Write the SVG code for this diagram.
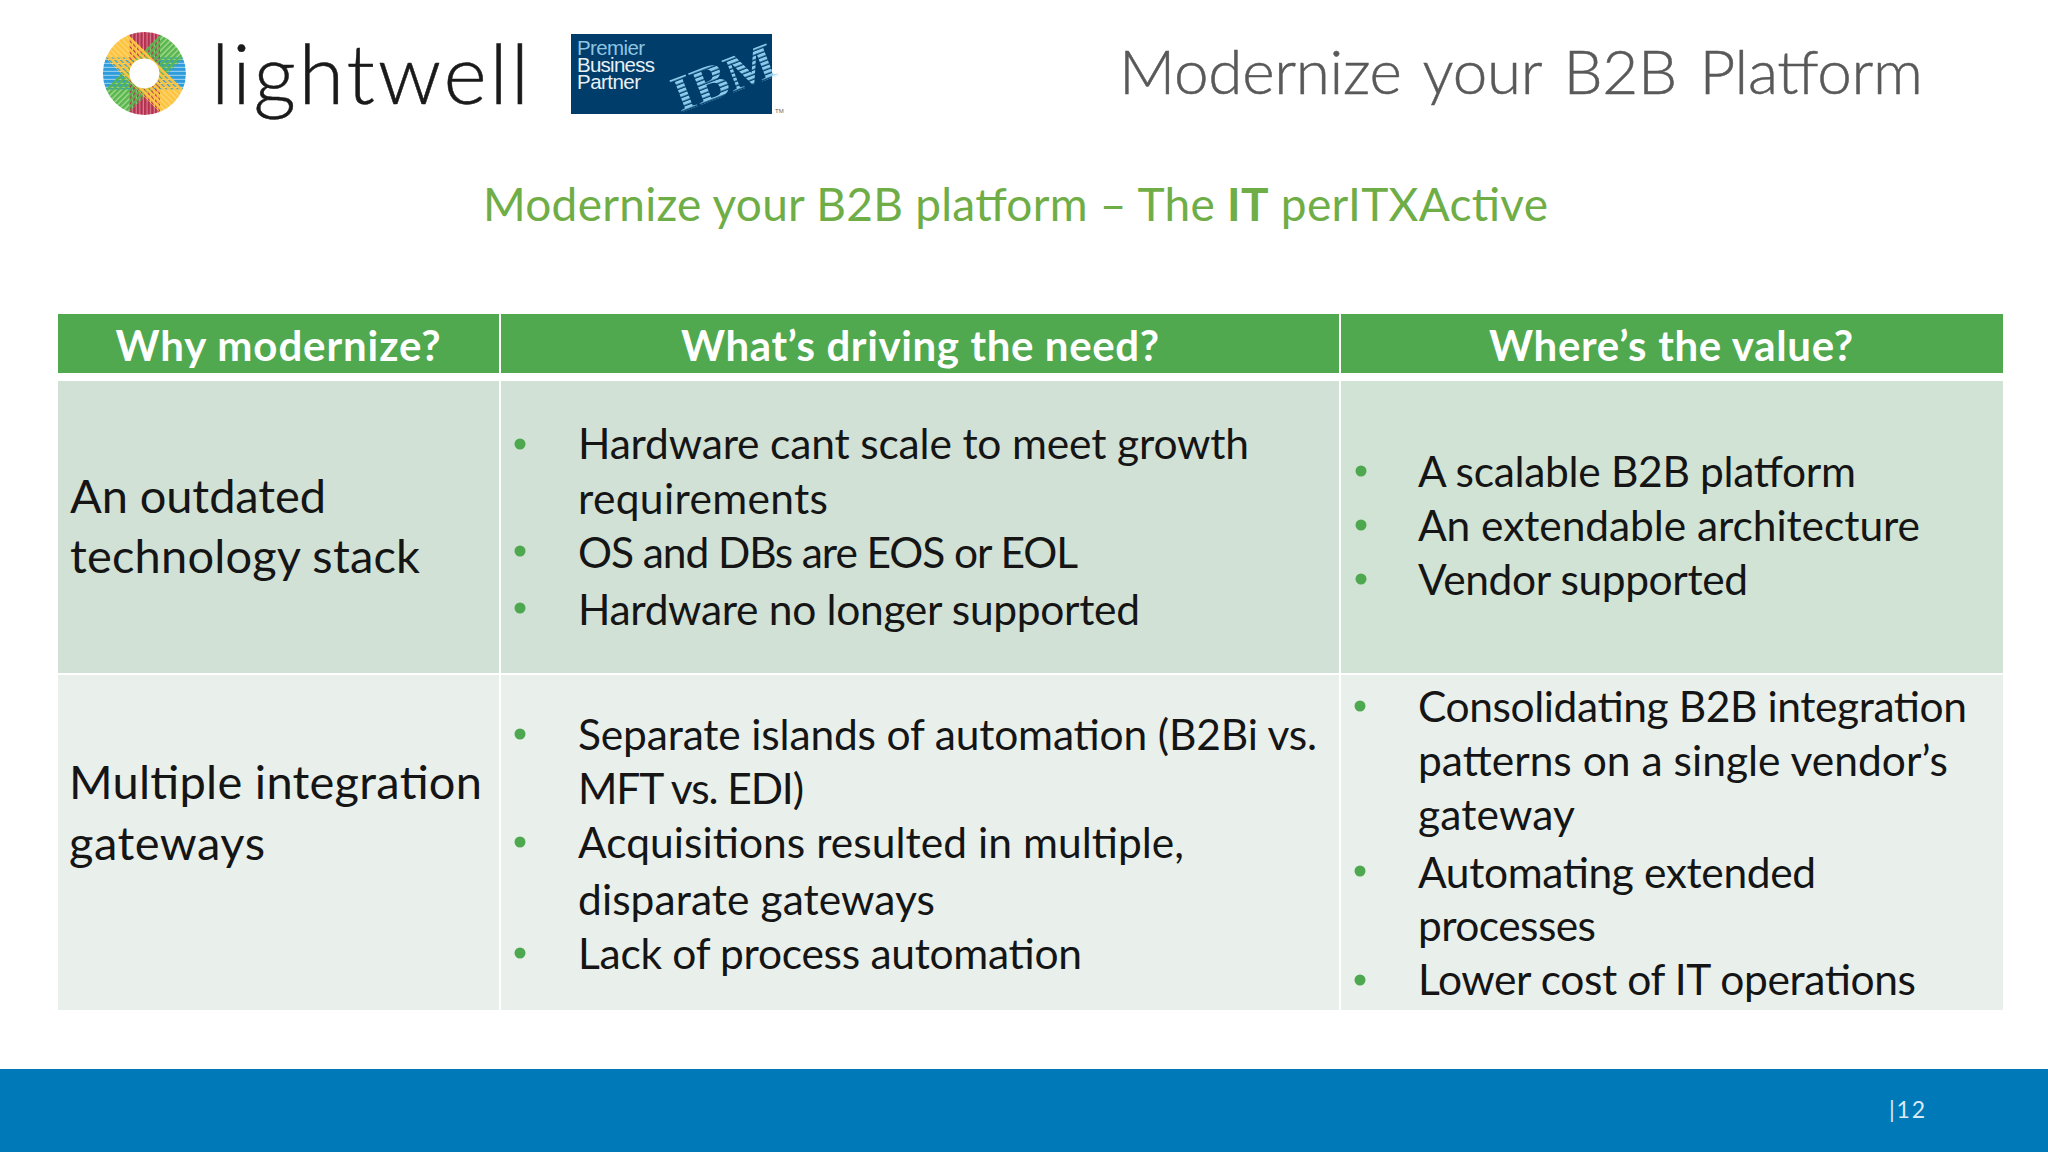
<svg xmlns="http://www.w3.org/2000/svg" width="2048" height="1152" viewBox="0 0 2048 1152">
<style>
text{font-family:Lato,"Open Sans",sans-serif}
.h{font-size:42px;font-weight:700;fill:#fff;text-anchor:middle}
.l{font-size:47px;fill:#151515}
.b{font-size:42.5px;fill:#151515}
.d{fill:#4ea84f}
.ib{font-family:"Liberation Sans",Arial,sans-serif;font-size:20.5px;fill:#e8f0f5}
</style>
<defs>
<pattern id="hb" width="4" height="4" patternUnits="userSpaceOnUse"><rect width="4" height="2.8" fill="#2f9cdb"/></pattern>
<pattern id="vr" width="3.6" height="4" patternUnits="userSpaceOnUse"><rect width="2.4" height="4" fill="#b5304f"/></pattern>
<pattern id="gr" width="4" height="4" patternUnits="userSpaceOnUse"><rect width="4" height="2.6" fill="#58b54e"/></pattern>
<pattern id="ye" width="4" height="4" patternUnits="userSpaceOnUse"><rect width="4" height="2.8" fill="#fdc440"/></pattern>
<pattern id="ibm" width="8" height="4.4" patternUnits="userSpaceOnUse"><rect width="8" height="3" fill="#8ccbec"/></pattern>
<mask id="ring"><rect x="90" y="20" width="110" height="110" fill="#000"/><circle cx="144.4" cy="73.4" r="41.5" fill="#fff"/><circle cx="144.4" cy="73.4" r="15" fill="#000"/></mask>
</defs>
<rect width="2048" height="1152" fill="#fff"/>

<g id="logo-lightwell">
<g mask="url(#ring)">
<rect x="90" y="57.4" width="110" height="32" fill="#8fcbec"/>
<rect x="129" y="20" width="31" height="110" fill="#d77f93"/>
<rect x="-50" y="-16.5" width="100" height="33" transform="translate(144.4,73.4) rotate(-45)" fill="#a5dc92"/>
<rect x="-50" y="-16.5" width="100" height="33" transform="translate(144.4,73.4) rotate(45)" fill="#fcd778"/>
<rect x="90" y="57.4" width="110" height="32" fill="url(#hb)"/>
<rect x="129" y="20" width="31" height="110" fill="url(#vr)"/>
<rect x="-50" y="-16.5" width="100" height="33" transform="translate(144.4,73.4) rotate(-45)" fill="url(#gr)"/>
<rect x="-50" y="-16.5" width="100" height="33" transform="translate(144.4,73.4) rotate(45)" fill="url(#ye)"/>
</g>
<text x="211" y="104" style="font-size:83px;font-weight:300;fill:#1a1a1a;stroke:#1a1a1a;stroke-width:.5" textLength="318" lengthAdjust="spacing">lightwell</text>
</g>

<g id="logo-ibm">
<rect x="571" y="34" width="201" height="80" fill="#003d6b"/>
<text class="ib" x="577" y="55" style="fill:#8fc4e2" textLength="68">Premier</text>
<text class="ib" x="577" y="72" textLength="78">Business</text>
<text class="ib" x="577" y="89" textLength="64">Partner</text>
<text transform="translate(680,113) rotate(-21) scale(1.03,1)" style="font-family:'Liberation Serif',serif;font-weight:700;font-size:52px;fill:url(#ibm)">IBM</text>
<text x="775" y="113" style="font-family:'Liberation Sans',sans-serif;font-size:6px;fill:#666">TM</text>
</g>

<text id="title" x="1119" y="94" style="font-size:62px;font-weight:300;fill:#595959;stroke:#595959;stroke-width:.5;word-spacing:6px" textLength="804" lengthAdjust="spacing">Modernize your B2B Platform</text>
<text id="subtitle" x="483" y="221" style="font-size:46px;fill:#6fad47" textLength="1065" lengthAdjust="spacing">Modernize your B2B platform – The <tspan font-weight="700">IT</tspan> perITXActive</text>

<g id="table">
<g id="header">
<rect x="58" y="314" width="441" height="59" fill="#50a94f"/>
<rect x="501" y="314" width="838" height="59" fill="#50a94f"/>
<rect x="1341" y="314" width="662" height="59" fill="#50a94f"/>
<text class="h" x="278" y="361" textLength="325">Why modernize?</text>
<text class="h" x="920" y="361" textLength="478">What’s driving the need?</text>
<text class="h" x="1671" y="361" textLength="364">Where’s the value?</text>
</g>
<g id="row-1">
<rect x="58" y="381" width="441" height="292" fill="#d1e1d5"/>
<rect x="501" y="381" width="838" height="292" fill="#d1e1d5"/>
<rect x="1341" y="381" width="662" height="292" fill="#d1e3d4"/>
<text class="l" x="70" y="513" textLength="256">An outdated</text>
<text class="l" x="70" y="573" textLength="350">technology stack</text>
<g class="d"><circle cx="520" cy="444" r="5.5"/><circle cx="520" cy="551" r="5.5"/><circle cx="520" cy="608" r="5.5"/>
<circle cx="1361" cy="471" r="5.5"/><circle cx="1361" cy="525" r="5.5"/><circle cx="1361" cy="579" r="5.5"/></g>
<text class="b" x="578" y="459" textLength="671">Hardware cant scale to meet growth</text>
<text class="b" x="578" y="514" textLength="250">requirements</text>
<text class="b" x="578" y="568" textLength="500">OS and DBs are EOS or EOL</text>
<text class="b" x="578" y="625" textLength="562">Hardware no longer supported</text>
<text class="b" x="1418" y="487" textLength="438">A scalable B2B platform</text>
<text class="b" x="1418" y="541" textLength="502">An extendable architecture</text>
<text class="b" x="1418" y="595" textLength="330">Vendor supported</text>
</g>
<g id="row-2">
<rect x="58" y="675" width="441" height="335" fill="#e9f0eb"/>
<rect x="501" y="675" width="838" height="335" fill="#e9f0eb"/>
<rect x="1341" y="675" width="662" height="335" fill="#e9f0eb"/>
<text class="l" x="69" y="799" textLength="413">Multiple integration</text>
<text class="l" x="69" y="860" textLength="196">gateways</text>
<g class="d"><circle cx="520" cy="734" r="5.5"/><circle cx="520" cy="842" r="5.5"/><circle cx="520" cy="953" r="5.5"/>
<circle cx="1360" cy="706" r="5.5"/><circle cx="1360" cy="871" r="5.5"/><circle cx="1360" cy="980" r="5.5"/></g>
<text class="b" x="578" y="750" textLength="739">Separate islands of automation (B2Bi vs.</text>
<text class="b" x="578" y="804" textLength="226">MFT vs. EDI)</text>
<text class="b" x="578" y="858" textLength="606">Acquisitions resulted in multiple,</text>
<text class="b" x="578" y="915" textLength="357">disparate gateways</text>
<text class="b" x="578" y="969" textLength="504">Lack of process automation</text>
<text class="b" x="1418" y="722" textLength="549">Consolidating B2B integration</text>
<text class="b" x="1418" y="776" textLength="530">patterns on a single vendor’s</text>
<text class="b" x="1418" y="830" textLength="157">gateway</text>
<text class="b" x="1418" y="888" textLength="398">Automating extended</text>
<text class="b" x="1418" y="941" textLength="178">processes</text>
<text class="b" x="1418" y="995" textLength="498">Lower cost of IT operations</text>
</g>
</g>

<g id="footer">
<rect y="1069" width="2048" height="83" fill="#0079b9"/>
<text x="1889" y="1118" style="font-size:23px;fill:#dbe9f2" textLength="36">|12</text>
</g>
</svg>
